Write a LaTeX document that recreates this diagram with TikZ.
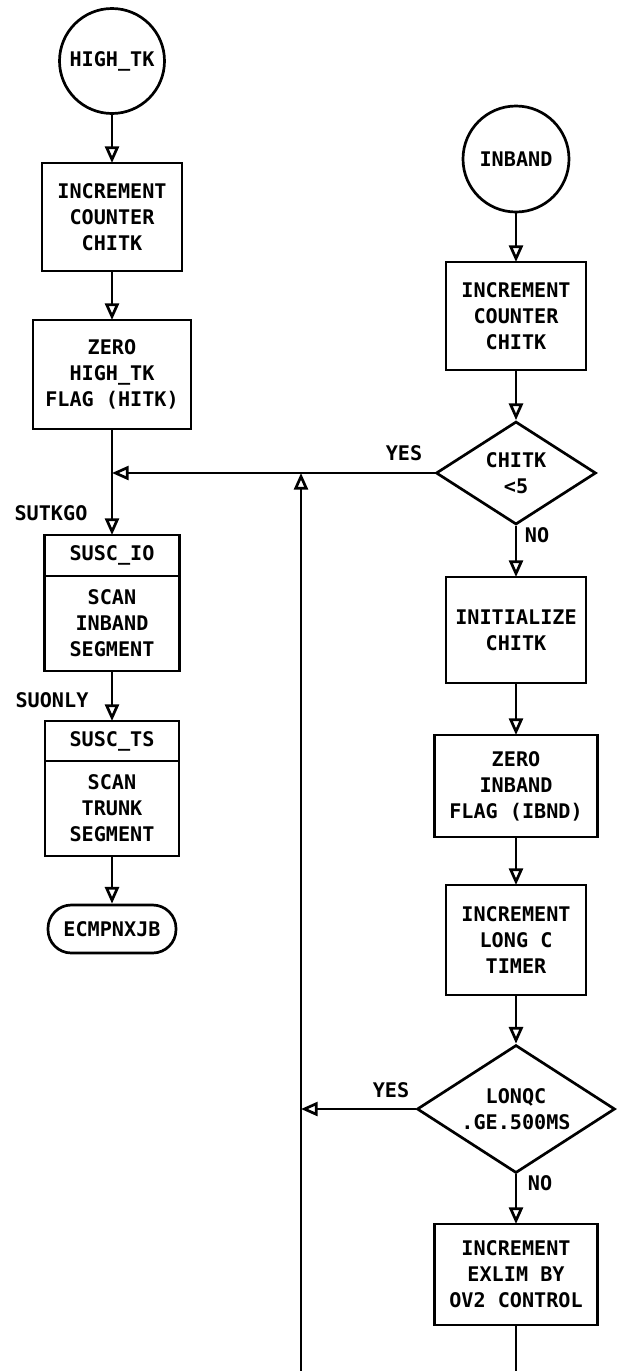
\documentclass[tikz,border=0pt]{standalone}
\usepackage{fontspec}
\setmonofont{DejaVu Sans Mono}
\usetikzlibrary{arrows.meta,shapes.geometric}

\begin{document}
\begin{tikzpicture}[x=1cm,y=1cm, line width=2.3pt,
  font=\ttfamily\bfseries\fontsize{17.2}{22.2}\selectfont,
  >={Triangle[open,length=0.5cm,width=0.42cm]},
  box/.style={draw, rectangle, align=center, inner sep=0pt, outer sep=0pt},
  conn/.style={draw, circle, inner sep=0pt, align=center},
  dec/.style={draw, diamond, shape aspect=1.55, inner sep=0pt, align=center},
  term/.style={draw, rectangle, rounded corners=0.7cm, inner sep=0pt}]
\useasboundingbox (0,0) rectangle (18.69,-41.13);

% left column
\node[conn, minimum size=3.15cm] (hightk) at (3.36,-1.83) {HIGH\_TK};
\node[box, minimum width=4.2cm, minimum height=3.24cm] (cntl) at (3.36,-6.51) {INCREMENT\\COUNTER\\CHITK};
\node[box, minimum width=4.74cm, minimum height=3.27cm] (hitk) at (3.36,-11.235) {ZERO\\HIGH\_TK\\FLAG (HITK)};
\coordinate (join) at (3.36,-14.19);
\node[box, minimum width=4.05cm, minimum height=1.23cm] (scio) at (3.36,-16.665) {SUSC\_IO};
\node[box, minimum width=4.05cm, minimum height=2.85cm, anchor=north] (scinb) at (scio.south) {SCAN\\INBAND\\SEGMENT};
\node[box, minimum width=4.02cm, minimum height=1.2cm] (scts) at (3.36,-22.23) {SUSC\_TS};
\node[box, minimum width=4.02cm, minimum height=2.85cm, anchor=north] (sctrk) at (scts.south) {SCAN\\TRUNK\\SEGMENT};
\node[term, minimum width=3.84cm, minimum height=1.44cm] (ecm) at (3.36,-27.87) {ECMPNXJB};
\node (sutkgo) at (1.53,-15.39) {SUTKGO};
\node (suonly) at (1.56,-21.0) {SUONLY};

% right column
\node[conn, minimum size=3.18cm] (inband) at (15.48,-4.77) {INBAND};
\node[box, minimum width=4.2cm, minimum height=3.24cm] (cntr) at (15.48,-9.48) {INCREMENT\\COUNTER\\CHITK};
\node[dec, minimum width=4.8cm, minimum height=3.09cm] (lt5) at (15.48,-14.19) {CHITK\\<5};
\node[box, minimum width=4.2cm, minimum height=3.18cm] (init) at (15.48,-18.9) {INITIALIZE\\CHITK};
\node[box, minimum width=4.89cm, minimum height=3.06cm] (ibnd) at (15.48,-23.58) {ZERO\\INBAND\\FLAG (IBND)};
\node[box, minimum width=4.2cm, minimum height=3.3cm] (lngc) at (15.48,-28.2) {INCREMENT\\LONG C\\TIMER};
\node[dec, minimum width=5.94cm, minimum height=3.84cm] (ge500) at (15.48,-33.27) {LONQC\\.GE.500MS};
\node[box, minimum width=4.89cm, minimum height=3.03cm] (exlim) at (15.48,-38.235) {INCREMENT\\EXLIM BY\\OV2 CONTROL};
\node (yes1) at (12.12,-13.59) {YES};
\node (no1) at (16.11,-16.05) {NO};
\node (yes2) at (11.73,-32.7) {YES};
\node (no2) at (16.2,-35.49) {NO};

% loop back
\coordinate (loop) at (9.03,-14.19);
\coordinate (back) at (9.03,-33.27);
\coordinate (loopend) at (9.03,-41.13);
\coordinate (exend) at (15.48,-41.13);

\draw[->] (hightk) -- (cntl);
\draw[->] (cntl) -- (hitk);
\draw (hitk) -- (join);
\draw[->] (join) -- (scio);
\draw[->] (scinb) -- (scts);
\draw[->] (sctrk) -- (ecm);
\draw[->] (lt5.west) -- (join);
\draw[->] (loopend) -- (loop);
\draw[->] (inband) -- (cntr);
\draw[->] (cntr) -- (lt5);
\draw[->] (lt5) -- (init);
\draw[->] (init) -- (ibnd);
\draw[->] (ibnd) -- (lngc);
\draw[->] (lngc) -- (ge500);
\draw[->] (ge500) -- (exlim);
\draw[->] (ge500.west) -- (back);
\draw (exlim) -- (exend);
\end{tikzpicture}
\end{document}
